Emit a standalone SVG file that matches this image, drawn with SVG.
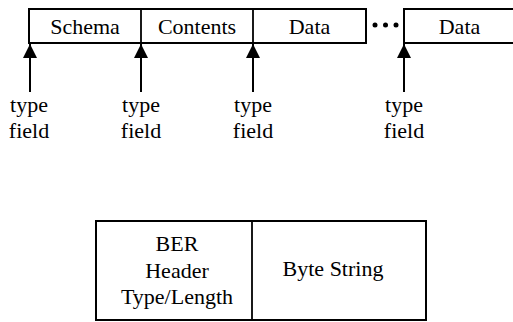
<svg xmlns="http://www.w3.org/2000/svg" width="513" height="322" viewBox="0 0 513 322">
  <style>
    .box { fill: #fff; stroke: #000; stroke-width: 2; }
    .div { stroke: #000; stroke-width: 1.8; }
    .lbl { font-family: "Liberation Serif", "Times New Roman", serif; font-size: 22px; fill: #000; text-anchor: middle; }
    .wire { stroke: #000; stroke-width: 2; fill: none; }
  </style>
  <defs>
    <marker id="head" markerUnits="userSpaceOnUse" markerWidth="14" markerHeight="14" viewBox="0 0 14 14" refX="14" refY="7" orient="auto">
      <path d="M0,0 L14,7 L0,14 Z" fill="#000"/>
    </marker>
  </defs>
  <rect width="513" height="322" fill="#fff"/>

  <!-- record of fields -->
  <g id="record">
    <rect class="box" x="29" y="9" width="337" height="34"/>
    <line class="div" x1="141" y1="9" x2="141" y2="43"/>
    <line class="div" x1="253" y1="9" x2="253" y2="43"/>
    <text class="lbl" x="85" y="34">Schema</text>
    <text class="lbl" x="197" y="34">Contents</text>
    <text class="lbl" x="309.5" y="34">Data</text>
  </g>
  <g id="ellipsis">
    <circle cx="375" cy="25" r="2.5"/>
    <circle cx="385.5" cy="25" r="2.5"/>
    <circle cx="396" cy="25" r="2.5"/>
  </g>
  <g id="record-last">
    <rect class="box" x="404" y="9" width="112" height="34"/>
    <text class="lbl" x="459.5" y="34">Data</text>
  </g>

  <!-- type field pointers -->
  <g id="connectors">
    <line class="wire" x1="30" y1="92" x2="30" y2="44" marker-end="url(#head)"/>
    <line class="wire" x1="141" y1="92" x2="141" y2="44" marker-end="url(#head)"/>
    <line class="wire" x1="253" y1="92" x2="253" y2="44" marker-end="url(#head)"/>
    <line class="wire" x1="404" y1="92" x2="404" y2="44" marker-end="url(#head)"/>
  </g>

  <g id="label-1"><text class="lbl" x="29" y="112">type</text><text class="lbl" x="29" y="138">field</text></g>
  <g id="label-2"><text class="lbl" x="141" y="112">type</text><text class="lbl" x="141" y="138">field</text></g>
  <g id="label-3"><text class="lbl" x="253" y="112">type</text><text class="lbl" x="253" y="138">field</text></g>
  <g id="label-4"><text class="lbl" x="404" y="112">type</text><text class="lbl" x="404" y="138">field</text></g>

  <!-- BER encoding -->
  <g id="ber">
    <rect class="box" x="96" y="221" width="330" height="99"/>
    <line class="div" x1="252" y1="221" x2="252" y2="320"/>
    <text class="lbl" x="177" y="251">BER</text>
    <text class="lbl" x="177" y="278">Header</text>
    <text class="lbl" x="177" y="304">Type/Length</text>
    <text class="lbl" x="333" y="276">Byte String</text>
  </g>
</svg>
